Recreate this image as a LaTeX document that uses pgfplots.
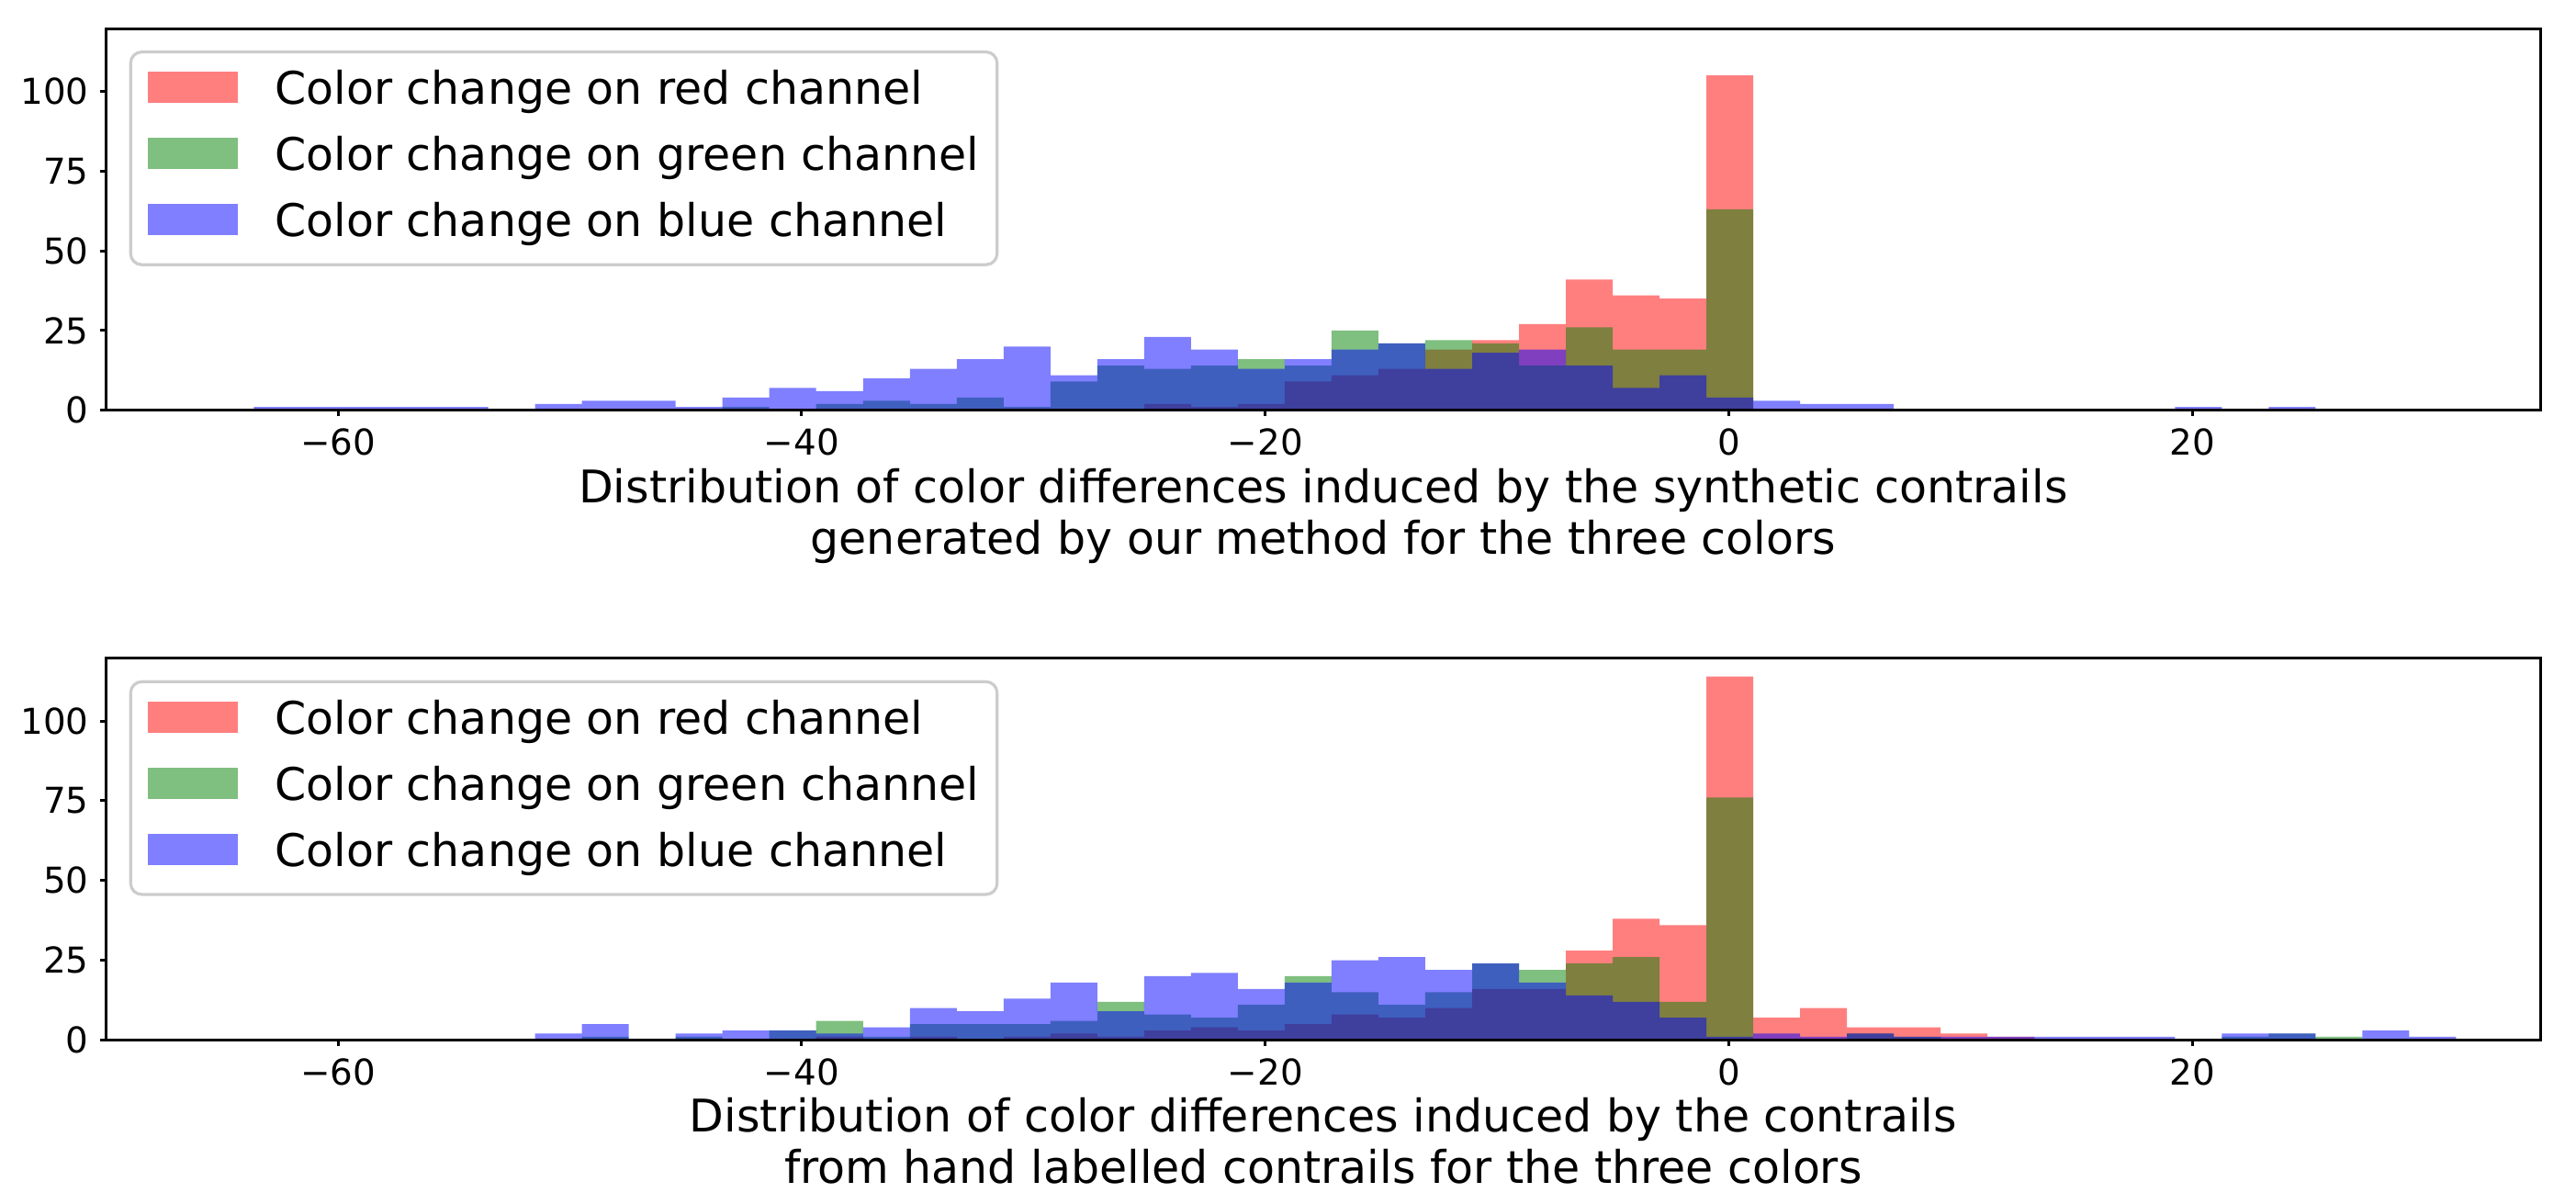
\documentclass[border=0pt]{standalone}
\usepackage{fontspec}
\setmainfont{DejaVu Sans}
\usepackage{pgfplots}
\usepackage{pgfplotstable}
\pgfplotsset{compat=1.18}
\definecolor{mplgreen}{rgb}{0,0.5,0}

% bin left edges and counts; r1/g1/b1 = synthetic, r2/g2/b2 = hand labelled
\pgfplotstableread{
x       r1  g1  b1  r2  g2  b2
-63.630 0   0   1   0   0   0
-61.609 0   0   1   0   0   0
-59.587 0   0   1   0   0   0
-57.566 0   0   1   0   0   0
-55.545 0   0   1   0   0   0
-53.524 0   0   0   0   0   0
-51.502 0   0   2   0   0   2
-49.481 0   0   3   0   1   5
-47.460 0   0   3   0   0   0
-45.438 0   0   1   0   1   2
-43.417 0   1   4   0   0   3
-41.396 0   0   7   0   3   3
-39.374 0   2   6   1   6   2
-37.353 0   3   10  0   1   4
-35.332 0   2   13  1   5   10
-33.311 0   4   16  0   5   9
-31.289 0   1   20  1   5   13
-29.268 0   9   11  2   6   18
-27.247 0   14  16  1   12  9
-25.225 2   13  23  3   8   20
-23.204 1   14  19  4   7   21
-21.183 2   16  13  3   11  16
-19.161 9   14  16  5   20  18
-17.140 11  25  19  8   15  25
-15.119 13  21  21  7   11  26
-13.098 19  22  13  10  15  22
-11.076 22  21  18  16  24  24
-9.055  27  14  19  16  22  18
-7.034  41  26  14  28  24  14
-5.012  36  19  7   38  26  12
-2.991  35  19  11  36  12  7
-0.970  105 63  4   114 76  1
1.052   0   0   3   7   0   2
3.073   0   0   2   10  0   1
5.094   0   0   2   4   2   2
7.116   0   0   0   4   1   1
9.137   0   0   0   2   0   1
11.158  0   0   0   1   0   1
13.179  0   0   0   0   0   1
15.201  0   0   0   0   0   1
17.222  0   0   0   0   0   1
19.243  0   0   1   0   0   0
21.265  0   0   0   0   1   2
23.286  0   0   1   0   2   2
25.307  0   0   0   0   1   0
27.329  0   0   0   0   0   3
29.350  0   0   0   0   0   1
31.371  0   0   0   0   0   0
}\hist

\pgfplotsset{
  histax/.style={
    scale only axis, width=662.575pt, height=103.925pt,
    xmin=-70, xmax=35, ymin=0, ymax=119.7,
    xtick={-60,-40,-20,0,20}, xticklabels={−60,−40,−20,0,20},
    ytick={0,25,50,75,100}, yticklabels={0,25,50,75,100},
    minor tick num=0,
    tick align=outside, major tick length=1.6pt,
    xtick pos=left, ytick pos=left,
    axis line style={line width=0.75pt},
    tick style={black, line width=0.75pt},
    tick label style={font=\fontsize{9.7}{12}\selectfont, inner sep=0pt},
    xticklabel style={anchor=north, yshift=-3.2pt},
    yticklabel style={anchor=east, xshift=-3pt},
    xlabel style={at={(axis description cs:0.5,0)}, anchor=north, yshift=-15.6pt,
      inner sep=0pt, align=center, font=\fontsize{12.25}{14}\selectfont},
    axis on top,
    legend style={at={(0.00943,0.9423)}, anchor=north west,
      draw=black!20, line width=0.8pt, rounded corners=3pt, fill=white,
      font=\fontsize{12.25}{15}\selectfont,
      inner xsep=4.8pt, inner ysep=4.7pt, row sep=5.5pt,
      cells={anchor=base west},
      nodes={inner sep=0pt, text height=9.5pt, text depth=3pt},
      /tikz/every odd column/.append style={column sep=10pt}},
    legend image code/.code={
      \fill[##1, draw=none, sharp corners] (0pt,0.31pt) rectangle (24.5pt,8.81pt);},
  },
  hist/.style={ybar interval, draw=none, fill=#1, fill opacity=0.5},
}

\begin{document}
\begin{tikzpicture}
\path[use as bounding box] (-28.925pt,-215.825pt) rectangle (672.325pt,111.675pt);

\begin{axis}[histax, at={(0pt,0pt)}, anchor=south west,
  xlabel={Distribution of color differences induced by the synthetic contrails\\generated by our method for the three colors}]
\addplot[hist=red] table[x=x, y=r1] {\hist};
\addplot[hist=mplgreen] table[x=x, y=g1] {\hist};
\addplot[hist=blue] table[x=x, y=b1] {\hist};
\legend{Color change on red channel, Color change on green channel, Color change on blue channel}
\end{axis}

\begin{axis}[histax, at={(0pt,-67.5pt)}, anchor=north west,
  xlabel={Distribution of color differences induced by the contrails\\from hand labelled contrails for the three colors}]
\addplot[hist=red] table[x=x, y=r2] {\hist};
\addplot[hist=mplgreen] table[x=x, y=g2] {\hist};
\addplot[hist=blue] table[x=x, y=b2] {\hist};
\legend{Color change on red channel, Color change on green channel, Color change on blue channel}
\end{axis}
\end{tikzpicture}
\end{document}
